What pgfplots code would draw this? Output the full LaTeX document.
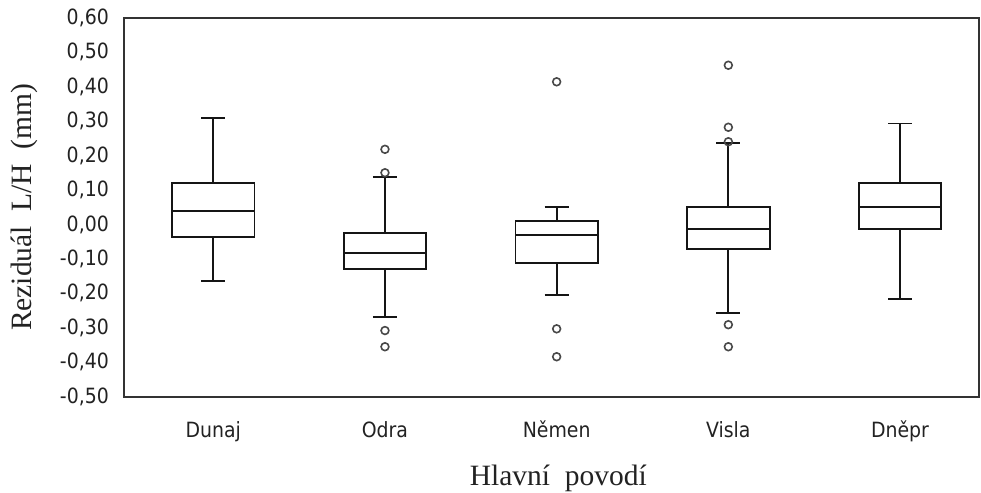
\documentclass[border=0pt]{standalone}
\usepackage{pgfplots}
\pgfplotsset{compat=1.18}
\usepgfplotslibrary{statistics}
\usepackage{fontspec}
\setmainfont{Liberation Serif}
\newfontfamily\tickfont{DejaVu Sans Condensed}
\definecolor{boxcol}{HTML}{151515}
\definecolor{framecol}{HTML}{333333}
\definecolor{labelcol}{HTML}{222222}
\definecolor{outcol}{HTML}{484848}

\pgfplotsset{
  resbox/.style={
    draw=boxcol, line width=1.9pt, solid, fill=none,
    mark=o, mark size=3.9pt,
    mark options={draw=outcol, line width=1.6pt, fill=none},
  },
}

\begin{document}
\begin{tikzpicture}
\begin{axis}[
  scale only axis,
  width=855pt, height=379pt,
  xmin=-0.52, xmax=4.46,
  ymin=-0.5, ymax=0.6,
  xtick={0,1,2,3,4},
  xticklabels={Dunaj,Odra,Němen,Visla,Dněpr},
  ytick={-0.5,-0.4,-0.3,-0.2,-0.1,0,0.1,0.2,0.3,0.4,0.5,0.6},
  yticklabels={{-0,50},{-0,40},{-0,30},{-0,20},{-0,10},{0,00},{0,10},{0,20},{0,30},{0,40},{0,50},{0,60}},
  major tick length=0pt,
  axis line style={draw=framecol, line width=2pt},
  tick label style={font=\tickfont\fontsize{21}{24}\selectfont, text=labelcol},
  xticklabel style={anchor=base, yshift=-41pt, inner sep=0pt},
  yticklabel style={anchor=east, xshift=-15pt, inner sep=0pt},
  ylabel={Reziduál\ \ L/H\ \ (mm)},
  ylabel style={at={(axis description cs:-0.117,0.5)}, anchor=center,
    font=\fontsize{29.5}{34}\selectfont, text=labelcol},
  xlabel={Hlavní\ \ povodí},
  xlabel style={at={(axis description cs:0.508,-0.235)}, anchor=base,
    font=\fontsize{29.5}{34}\selectfont, text=labelcol},
  boxplot/draw direction=y,
  boxplot/box extend=0.48,
  boxplot/whisker extend=0.14,
  clip=false,
]
% Dunaj
\addplot[resbox, boxplot prepared={draw position=0,
  lower whisker=-0.164, lower quartile=-0.037, median=0.039,
  upper quartile=0.120, upper whisker=0.309}] coordinates {};
% Odra
\addplot[resbox, boxplot prepared={draw position=1,
  lower whisker=-0.268, lower quartile=-0.129, median=-0.082,
  upper quartile=-0.025, upper whisker=0.137}]
  table[row sep=\\, y index=0] {y\\ 0.218\\ 0.150\\ -0.308\\ -0.355\\};
% Němen
\addplot[resbox, boxplot prepared={draw position=2,
  lower whisker=-0.204, lower quartile=-0.111, median=-0.031,
  upper quartile=0.010, upper whisker=0.050}]
  table[row sep=\\, y index=0] {y\\ 0.414\\ -0.303\\ -0.384\\};
% Visla
\addplot[resbox, boxplot prepared={draw position=3,
  lower whisker=-0.257, lower quartile=-0.071, median=-0.013,
  upper quartile=0.050, upper whisker=0.236}]
  table[row sep=\\, y index=0] {y\\ 0.462\\ 0.282\\ 0.240\\ -0.291\\ -0.355\\};
% Dněpr
\addplot[resbox, boxplot prepared={draw position=4,
  lower whisker=-0.217, lower quartile=-0.013, median=0.050,
  upper quartile=0.120, upper whisker=0.293}] coordinates {};
\end{axis}
\pgfresetboundingbox
\path[use as bounding box] (-124pt,-95.3pt) rectangle (857pt,396.7pt);
\end{tikzpicture}
\end{document}
